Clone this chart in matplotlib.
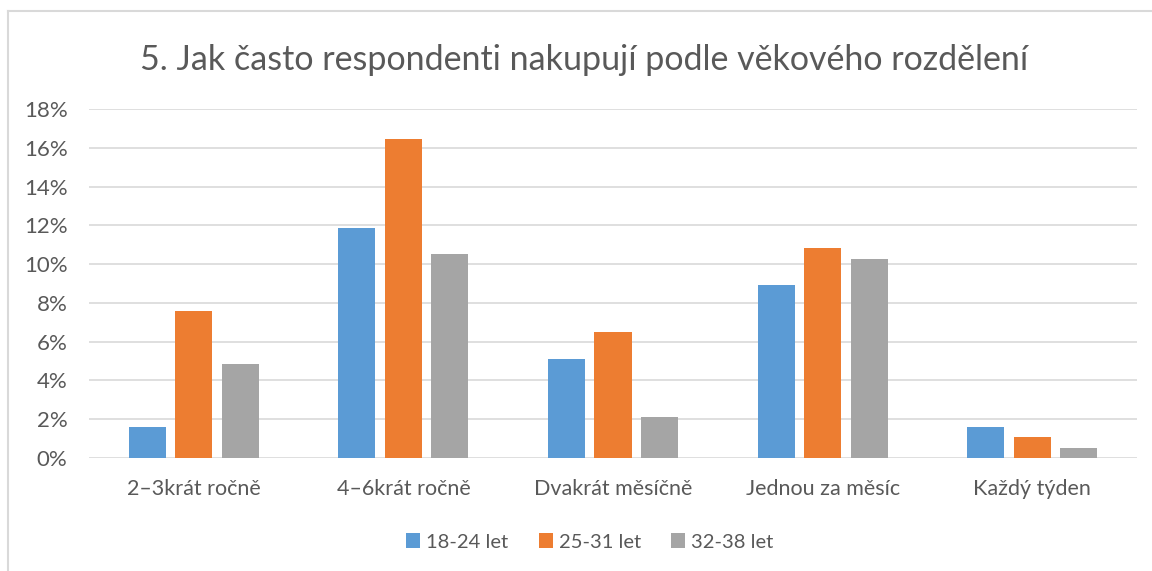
import numpy as np
import matplotlib
matplotlib.use("Agg")
import matplotlib.pyplot as plt
from matplotlib.lines import Line2D
from matplotlib.patches import Patch

categories = ["2–3krát ročně", "4–6krát ročně", "Dvakrát měsíčně", "Jednou za měsíc", "Každý týden"]
series_names = ["18-24 let", "25-31 let", "32-38 let"]
vals_18_24 = [1.6, 11.88, 5.13, 8.92, 1.6]
vals_25_31 = [7.58, 16.47, 6.48, 10.82, 1.09]
vals_32_38 = [4.86, 10.54, 2.14, 10.25, 0.53]
colors = ["#5B9BD5", "#ED7D31", "#A5A5A5"]

plt.rcParams['font.family'] = ['Lato', 'DejaVu Sans']
W, H = 1152, 571
fig = plt.figure(figsize=(W/100, H/100), dpi=100)

# plot area in pixels: x 89..1137, y 109..458
ax = fig.add_axes([89/W, 1-458/H, (1137-89)/W, (458-109)/H])

x = np.arange(len(categories))
bw = 0.177
step = 0.222
for i, (vals, c) in enumerate(zip([vals_18_24, vals_25_31, vals_32_38], colors)):
    ax.bar(x + (i-1)*step, vals, width=bw, color=c, zorder=3, label=series_names[i])

ax.set_xlim(-0.5, len(categories)-0.5)
ax.set_ylim(0, 18)
ax.set_yticks(np.arange(0, 19, 2))
ax.set_yticklabels([f"{v}%" for v in range(0, 19, 2)])
ax.set_xticks(x)
ax.set_xticklabels(categories)
ax.grid(axis='y', color='#D9D9D9', linewidth=1.2, zorder=0)
for s in ax.spines.values():
    s.set_visible(False)
ax.tick_params(axis='both', length=0, colors='#595959')
ax.tick_params(axis='x', pad=15, labelsize=15.5)
ax.tick_params(axis='y', pad=15.5, labelsize=16)

fig.text(584/W, 1-60/H, "5. Jak často respondenti nakupují podle věkového rozdělení",
         ha='center', va='center', fontsize=24.5, color='#595959')

handles = [Patch(facecolor=c, edgecolor='none') for c in colors]
fig.legend(handles, series_names, loc='center', bbox_to_anchor=(590/W, 1-542/H),
           ncol=3, frameon=False, fontsize=14.5, handlelength=0.7, handleheight=0.7,
           handletextpad=0.3, columnspacing=1.5, labelcolor='#595959')

# chart area border (left and top only visible)
fig.add_artist(Line2D([8/W, 8/W], [0, 1-11/H], color='#D9D9D9', linewidth=1.5))
fig.add_artist(Line2D([8/W, 1], [1-11/H, 1-11/H], color='#D9D9D9', linewidth=1.5))

fig.savefig("out.png", dpi=100)
